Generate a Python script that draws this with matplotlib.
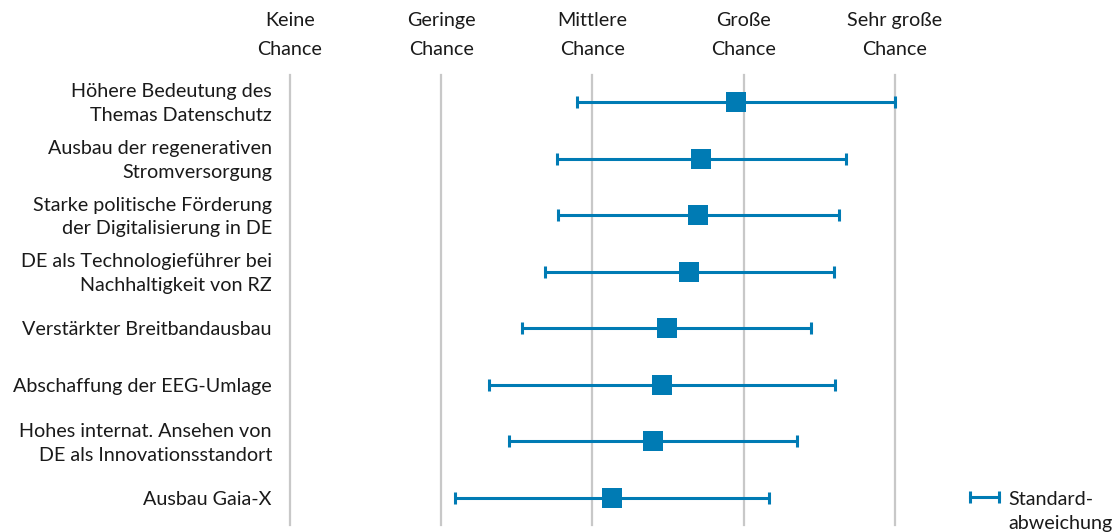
import matplotlib
matplotlib.use("Agg")
import matplotlib.pyplot as plt
from matplotlib.lines import Line2D
from matplotlib.transforms import ScaledTranslation

# Survey results: mean rating and standard deviation per factor
categories = [
    "Höhere Bedeutung des\nThemas Datenschutz",
    "Ausbau der regenerativen\nStromversorgung",
    "Starke politische Förderung\nder Digitalisierung in DE",
    "DE als Technologieführer bei\nNachhaltigkeit von RZ",
    "Verstärkter Breitbandausbau",
    "Abschaffung der EEG-Umlage",
    "Hohes internat. Ansehen von\nDE als Innovationsstandort",
    "Ausbau Gaia-X",
]
means = [3.95, 3.72, 3.70, 3.64, 3.49, 3.46, 3.40, 3.13]
std_devs = [1.05, 0.955, 0.93, 0.955, 0.955, 1.145, 0.95, 1.04]

scale_values = [1, 2, 3, 4, 5]
scale_labels = ["Keine\nChance", "Geringe\nChance", "Mittlere\nChance",
                "Große\nChance", "Sehr große\nChance"]
legend_label = "Standard-\nabweichung"

BLUE = "#007bb4"
GRID = "#c8c8c8"
TEXT = "#1a1a1a"
FS = 14.2

plt.rcParams["font.family"] = ["Lato", "DejaVu Sans"]

W, H = 1120, 532
fig = plt.figure(figsize=(W / 100, H / 100), dpi=100)

left_px, right_px = 290, 895
top_px, bottom_px = 75, 525
ax = fig.add_axes([left_px / W, 1 - bottom_px / H,
                   (right_px - left_px) / W, (bottom_px - top_px) / H])

n = len(categories)
ypos = list(range(n))
ax.set_xlim(scale_values[0], scale_values[-1])
ax.set_ylim(n - 1 + 0.477, -0.477)

for v in scale_values:
    ax.axvline(v, color=GRID, lw=1.6, zorder=1, clip_on=False)

# Whiskers with end caps
ax.errorbar(means, ypos, xerr=std_devs, fmt="none", ecolor=BLUE,
            elinewidth=2.2, capsize=4.5, capthick=2.2, zorder=2,
            clip_on=False)
# Mean markers
ax.plot(means, ypos, linestyle="none", marker="s", markersize=13.7,
        color=BLUE, markeredgewidth=0, zorder=3, clip_on=False)

for s in ax.spines.values():
    s.set_visible(False)

ax.set_xticks(scale_values)
ax.set_xticklabels(scale_labels, fontsize=FS, color=TEXT, linespacing=1.87)
ax.xaxis.tick_top()
ax.tick_params(axis="x", length=0, pad=12)

ax.set_yticks(ypos)
ax.set_yticklabels(categories, fontsize=FS, color=TEXT, linespacing=1.49,
                   ha="right")
ax.tick_params(axis="y", length=0, pad=13)
# Centre the two-line category labels on their row
for lbl in ax.get_yticklabels():
    if "\n" in lbl.get_text():
        lbl.set_transform(lbl.get_transform()
                          + ScaledTranslation(0, 3 / 100, fig.dpi_scale_trans))

# Legend entry for the standard deviation whisker
ly = 1 - 497 / H
fig.add_artist(Line2D([970 / W, 999 / W], [ly, ly], color=BLUE, lw=2.2,
                      transform=fig.transFigure))
fig.add_artist(Line2D([970 / W, 999 / W], [ly, ly], color=BLUE, lw=0,
                      marker="|", markersize=9, markeredgewidth=2.2,
                      transform=fig.transFigure))
fig.text(1008 / W, 1 - 491 / H, legend_label, fontsize=FS, color=TEXT,
         ha="left", va="top", linespacing=1.49)

fig.savefig("out.png", dpi=100)
